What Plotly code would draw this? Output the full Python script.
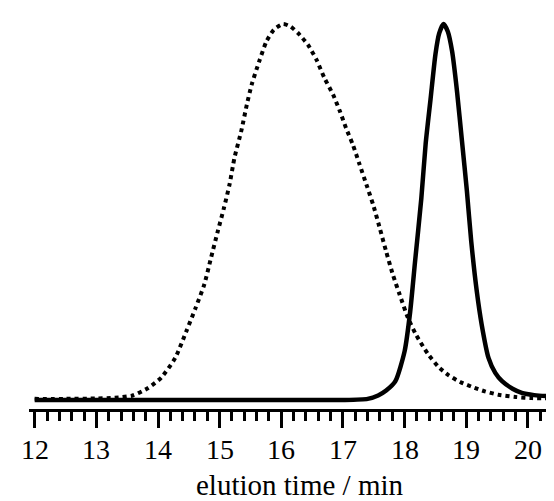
import plotly.graph_objects as go

# Dotted trace (broad peak)
dotted_time = [12.0, 12.5, 13.0, 13.3, 13.59, 13.84, 14.05, 14.28, 14.46, 14.61, 14.75, 14.86,
               14.97, 15.07, 15.16, 15.24, 15.35, 15.44, 15.52, 15.64, 15.76, 15.88, 16.03,
               16.15, 16.27, 16.43, 16.57, 16.70, 16.84, 16.95, 17.05, 17.16, 17.27, 17.38,
               17.49, 17.60, 17.70, 17.81, 17.92, 18.05, 18.19, 18.38, 18.55, 18.71, 18.90,
               19.09, 19.30, 19.52, 19.80, 20.07, 20.55]
dotted_signal = [0.003, 0.003, 0.004, 0.006, 0.012, 0.032, 0.059, 0.112, 0.183, 0.245, 0.307, 0.378,
                 0.449, 0.511, 0.573, 0.644, 0.715, 0.785, 0.839, 0.900, 0.954, 0.985, 1.000,
                 0.993, 0.976, 0.945, 0.905, 0.856, 0.812, 0.768, 0.723, 0.679, 0.626, 0.573,
                 0.519, 0.455, 0.395, 0.333, 0.280, 0.220, 0.172, 0.122, 0.088, 0.066, 0.048,
                 0.035, 0.023, 0.014, 0.008, 0.005, 0.004]

# Solid trace (narrow peak)
solid_time = [12.0, 17.0, 17.4, 17.57, 17.70, 17.85, 18.00, 18.09, 18.17, 18.27, 18.34, 18.42,
              18.50, 18.56, 18.63, 18.70, 18.77, 18.85, 18.93, 19.01, 19.08, 19.17, 19.25,
              19.36, 19.47, 19.58, 19.75, 19.90, 20.10, 20.34, 20.55]
solid_signal = [0.0, 0.0, 0.003, 0.012, 0.025, 0.050, 0.130, 0.235, 0.370, 0.535, 0.680, 0.800,
                0.920, 0.975, 1.000, 0.980, 0.927, 0.820, 0.688, 0.555, 0.422, 0.289, 0.200,
                0.112, 0.072, 0.050, 0.030, 0.019, 0.013, 0.010, 0.009]

tick_values = [12, 13, 14, 15, 16, 17, 18, 19, 20]
tick_labels = ["12", "13", "14", "15", "16", "17", "18", "19", "20"]
x_title = "elution time / min"

SERIF = "Liberation Serif"

fig = go.Figure()
fig.add_trace(go.Scatter(x=dotted_time, y=dotted_signal, mode="lines",
                         line=dict(color="black", width=4, dash="4px,4px", shape="spline", smoothing=0.6),
                         showlegend=False, hoverinfo="skip"))
fig.add_trace(go.Scatter(x=solid_time, y=solid_signal, mode="lines",
                         line=dict(color="black", width=4.5, shape="spline", smoothing=0.6),
                         showlegend=False, hoverinfo="skip"))

fig.update_layout(
    width=554, height=501,
    margin=dict(l=21, r=0, t=0, b=100),
    paper_bgcolor="white", plot_bgcolor="white",
    font=dict(family=SERIF, color="black", size=28),
    xaxis=dict(
        range=[11.908, 20.552],
        showgrid=False, zeroline=False,
        showline=True, linecolor="black", linewidth=3,
        ticks="outside", ticklen=16, tickwidth=2.5, tickcolor="black",
        tickmode="array", tickvals=tick_values, showticklabels=False,
        minor=dict(dtick=0.2, tick0=12, ticks="outside", ticklen=9, tickwidth=2.5, tickcolor="black"),
    ),
    yaxis=dict(visible=False, range=[-0.02394, 1.04255]),
)

# Tick labels placed at the axis tick values (font on axis labels is not honoured in this renderer)
for v, lab in zip(tick_values, tick_labels):
    fig.add_annotation(x=v, xref="x", y=0, yref="paper", yanchor="middle", yshift=-40,
                       text=lab, showarrow=False,
                       font=dict(family=SERIF, size=28, color="black"))

fig.add_annotation(x=0.509, xref="paper", y=0, yref="paper", yanchor="middle", yshift=-76,
                   text=x_title, showarrow=False, borderpad=0,
                   font=dict(family=SERIF, size=29, color="black"))

fig.write_html("out.html")
